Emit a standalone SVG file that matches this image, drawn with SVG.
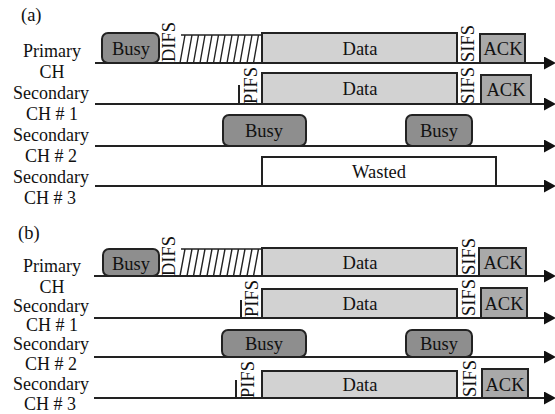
<svg xmlns="http://www.w3.org/2000/svg" width="555" height="414" viewBox="0 0 555 414">
<style>
text{font-family:"Liberation Serif","Times New Roman",serif;font-size:18.5px;fill:#111}
.m{text-anchor:middle}
.lb{font-size:18px}
.busy{fill:#8e8e8e;stroke:#222;stroke-width:2}
.data{fill:#d2d2d2;stroke:#222;stroke-width:2}
.ack{fill:#a9a9a9;stroke:#222;stroke-width:2}
.waste{fill:#fff;stroke:#222;stroke-width:2}
.axis{fill:none;stroke:#222;stroke-width:2;marker-end:url(#arr)}
.hatch{fill:none;stroke:#222;stroke-width:1.4}
.bar{stroke:#222;stroke-width:2}
</style>
<defs>
<marker id="arr" viewBox="0 0 12 13" refX="0" refY="6.5" markerWidth="12" markerHeight="13" markerUnits="userSpaceOnUse" orient="auto">
<path d="M0,0 L12,6.5 L0,13 z" fill="#111"/>
</marker>
</defs>
<rect width="555" height="414" fill="#fff"/>

<!-- Panel (a) -->
<text x="21" y="21">(a)</text>
<g id="a-labels">
<text class="m lb" x="52" y="57">Primary</text>
<text class="m lb" x="52" y="78">CH</text>
<text class="m lb" x="51" y="99">Secondary</text>
<text class="m lb" x="52" y="120">CH # 1</text>
<text class="m lb" x="51" y="141">Secondary</text>
<text class="m lb" x="51" y="162">CH # 2</text>
<text class="m lb" x="51" y="183">Secondary</text>
<text class="m lb" x="50" y="204">CH # 3</text>
</g>
<g id="a-connectors">
<path class="axis" d="M95,63 H544"/>
<path class="axis" d="M95,104 H544"/>
<path class="axis" d="M95,146 H544"/>
<path class="axis" d="M95,186 H544"/>
</g>
<g id="a-p-busy"><rect class="busy" x="102" y="33" width="57" height="30" rx="6"/><text class="m" x="131" y="55">Busy</text></g>
<g id="a-p-difs"><text transform="translate(175,62) rotate(-90)">DIFS</text></g>
<g id="a-p-backoff"><path class="hatch" d="M181,35 H262 M180,63 l5,-28 M187,63 l5,-28 M193.5,63 l5,-28 M200,63 l5,-28 M207,63 l5,-28 M213.5,63 l5,-28 M220,63 l5,-28 M227,63 l5,-28 M233.5,63 l5,-28 M240,63 l5,-28 M247,63 l5,-28 M253.5,63 l5,-28"/></g>
<g id="a-p-data"><rect class="data" x="262" y="33" width="195" height="30"/><text class="m" x="360" y="55">Data</text></g>
<g id="a-p-sifs"><text transform="translate(474,62) rotate(-90)">SIFS</text></g>
<g id="a-p-ack"><rect class="ack" x="480" y="34" width="45" height="29"/><text class="m" x="503" y="55">ACK</text></g>

<g id="a-s1-pifs"><line class="bar" x1="239" y1="85" x2="239" y2="104"/><text transform="translate(257,104) rotate(-90)">PIFS</text></g>
<g id="a-s1-data"><rect class="data" x="262" y="73" width="195" height="31"/><text class="m" x="360" y="95">Data</text></g>
<g id="a-s1-sifs"><text transform="translate(474,104) rotate(-90)">SIFS</text></g>
<g id="a-s1-ack"><rect class="ack" x="481" y="75" width="50" height="29"/><text class="m" x="506" y="96">ACK</text></g>

<g id="a-s2-busy1"><rect class="busy" x="223" y="115" width="83" height="31" rx="6"/><text class="m" x="264" y="137">Busy</text></g>
<g id="a-s2-busy2"><rect class="busy" x="406" y="115" width="66" height="31" rx="6"/><text class="m" x="439" y="137">Busy</text></g>

<g id="a-s3-wasted"><rect class="waste" x="262" y="157" width="234" height="29"/><text class="m" x="379" y="178">Wasted</text></g>

<!-- Panel (b) -->
<text x="18" y="239">(b)</text>
<g id="b-labels">
<text class="m lb" x="52" y="272">Primary</text>
<text class="m lb" x="52" y="293">CH</text>
<text class="m lb" x="51" y="312">Secondary</text>
<text class="m lb" x="52" y="331">CH # 1</text>
<text class="m lb" x="51" y="350">Secondary</text>
<text class="m lb" x="51" y="370">CH # 2</text>
<text class="m lb" x="51" y="390">Secondary</text>
<text class="m lb" x="50" y="410">CH # 3</text>
</g>
<g id="b-connectors">
<path class="axis" d="M94,276 H544"/>
<path class="axis" d="M94,318 H544"/>
<path class="axis" d="M94,357 H544"/>
<path class="axis" d="M94,398 H544"/>
</g>
<g id="b-p-busy"><rect class="busy" x="103" y="249" width="56" height="27" rx="6"/><text class="m" x="131" y="270">Busy</text></g>
<g id="b-p-difs"><text transform="translate(175,276) rotate(-90)">DIFS</text></g>
<g id="b-p-backoff"><path class="hatch" d="M181,249 H262 M180,276 l5,-27 M187,276 l5,-27 M193.5,276 l5,-27 M200,276 l5,-27 M207,276 l5,-27 M213.5,276 l5,-27 M220,276 l5,-27 M227,276 l5,-27 M233.5,276 l5,-27 M240,276 l5,-27 M247,276 l5,-27 M253.5,276 l5,-27"/></g>
<g id="b-p-data"><rect class="data" x="262" y="248" width="195" height="28"/><text class="m" x="360" y="269">Data</text></g>
<g id="b-p-sifs"><text transform="translate(475,275) rotate(-90)">SIFS</text></g>
<g id="b-p-ack"><rect class="ack" x="479" y="248" width="47" height="28"/><text class="m" x="503" y="269">ACK</text></g>

<g id="b-s1-pifs"><line class="bar" x1="241" y1="300" x2="241" y2="318"/><text transform="translate(258,317) rotate(-90)">PIFS</text></g>
<g id="b-s1-data"><rect class="data" x="262" y="289" width="195" height="29"/><text class="m" x="360" y="310">Data</text></g>
<g id="b-s1-sifs"><text transform="translate(475,316) rotate(-90)">SIFS</text></g>
<g id="b-s1-ack"><rect class="ack" x="481" y="288" width="46" height="30"/><text class="m" x="504" y="310">ACK</text></g>

<g id="b-s2-busy1"><rect class="busy" x="222" y="330" width="84" height="27" rx="6"/><text class="m" x="264" y="350">Busy</text></g>
<g id="b-s2-busy2"><rect class="busy" x="406" y="330" width="66" height="27" rx="6"/><text class="m" x="439" y="350">Busy</text></g>

<g id="b-s3-pifs"><line class="bar" x1="236" y1="380" x2="236" y2="398"/><text transform="translate(254,398) rotate(-90)">PIFS</text></g>
<g id="b-s3-data"><rect class="data" x="262" y="371" width="195" height="27"/><text class="m" x="360" y="391">Data</text></g>
<g id="b-s3-sifs"><text transform="translate(476,397) rotate(-90)">SIFS</text></g>
<g id="b-s3-ack"><rect class="ack" x="482" y="369" width="46" height="29"/><text class="m" x="505" y="391">ACK</text></g>
</svg>
